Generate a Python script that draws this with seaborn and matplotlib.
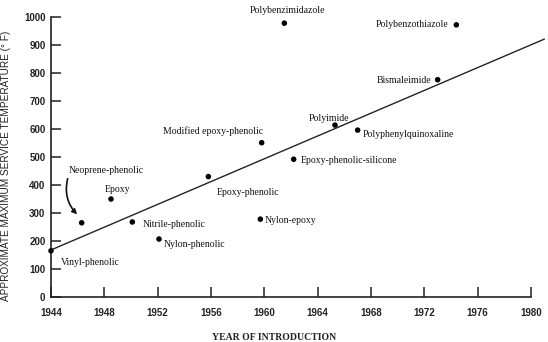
import matplotlib
matplotlib.use("Agg")
import matplotlib.pyplot as plt
import seaborn as sns
import pandas as pd
from matplotlib.patches import FancyArrowPatch

materials = ["Vinyl-phenolic", "Neoprene-phenolic", "Epoxy", "Nitrile-phenolic",
             "Nylon-phenolic", "Epoxy-phenolic", "Nylon-epoxy", "Modified epoxy-phenolic",
             "Epoxy-phenolic-silicone", "Polybenzimidazole", "Polyimide",
             "Polyphenylquinoxaline", "Bismaleimide", "Polybenzothiazole"]
years = [1944.0, 1946.3, 1948.5, 1950.1, 1952.1, 1955.8, 1959.7, 1959.8,
         1962.2, 1961.5, 1965.3, 1967.0, 1973.0, 1974.4]
temps = [165, 265, 350, 268, 207, 430, 278, 551, 492, 978, 614, 596, 776, 972]

trend_years = [1944, 1981]
trend_temps = [168, 921]

x_ticks = [1944, 1948, 1952, 1956, 1960, 1964, 1968, 1972, 1976, 1980]
y_ticks = [0, 100, 200, 300, 400, 500, 600, 700, 800, 900, 1000]

df = pd.DataFrame({"material": materials, "year": years, "temp": temps})
trend = pd.DataFrame({"year": trend_years, "temp": trend_temps})

sns.set_style("ticks")
plt.rcParams["font.family"] = ["Liberation Serif", "DejaVu Serif"]

fig = plt.figure(figsize=(5.48, 3.42), dpi=100)
ax = fig.add_axes([51/548, 1-297/342, 480/548, 280/342])

sns.lineplot(data=trend, x="year", y="temp", ax=ax, color="#222222", lw=1.0,
             clip_on=False)
sns.scatterplot(data=df, x="year", y="temp", ax=ax, color="black", s=16,
                edgecolor="none", clip_on=False, zorder=5)

# label placement (offsets in pixels, alignment)
label_pos = {
    "Vinyl-phenolic": (10, -12, "left"),
    "Neoprene-phenolic": (-13, 52, "left"),
    "Epoxy": (6, 10, "center"),
    "Nitrile-phenolic": (10, -3, "left"),
    "Nylon-phenolic": (5, -5, "left"),
    "Epoxy-phenolic": (8, -16, "left"),
    "Nylon-epoxy": (4, -1, "left"),
    "Modified epoxy-phenolic": (1, 12, "right"),
    "Epoxy-phenolic-silicone": (7, -1, "left"),
    "Polybenzimidazole": (-35, 13, "left"),
    "Polyimide": (-6, 7, "center"),
    "Polyphenylquinoxaline": (5, -4, "left"),
    "Bismaleimide": (-6, -1, "right"),
    "Polybenzothiazole": (-8, 0, "right"),
}
for m, xv, yv in zip(materials, years, temps):
    dx, dy, ha = label_pos[m]
    ax.annotate(m, (xv, yv), xytext=(dx, dy), textcoords="offset pixels",
                ha=ha, va="center", fontsize=7, color="#111111",
                annotation_clip=False)

# curved arrow for Neoprene-phenolic
arrow = FancyArrowPatch((1945.3, 432), (1946.1, 288),
                        connectionstyle="arc3,rad=0.3", arrowstyle="-|>",
                        mutation_scale=7, lw=1.2, color="#111111", clip_on=False)
ax.add_patch(arrow)

ax.set_xlim(1944, 1980)
ax.set_ylim(0, 1000)
ax.set_xticks(x_ticks)
ax.set_yticks(y_ticks)
ax.set_xticklabels([str(t) for t in x_ticks], fontfamily="Liberation Sans",
                   fontweight="bold", fontsize=7, color="#222222")
ax.set_yticklabels([str(t) for t in y_ticks], fontfamily="Liberation Sans",
                   fontweight="bold", fontsize=7, color="#222222")
ax.tick_params(axis="x", direction="in", length=7, width=1.1, pad=8, color="#222222")
ax.tick_params(axis="y", direction="in", length=7, width=1.1, pad=4, color="#222222")
sns.despine(ax=ax)
for sp in ("left", "bottom"):
    ax.spines[sp].set_linewidth(1.2)
    ax.spines[sp].set_color("#222222")

ax.set_xlabel("")
ax.set_ylabel("")
fig.text(274/548, 1-337/342, "YEAR OF INTRODUCTION", ha="center", va="center",
         fontsize=7, fontweight="bold", color="#222222")
fig.text(6/548, 1-166/342, "APPROXIMATE MAXIMUM SERVICE TEMPERATURE (° F)",
         ha="center", va="center", rotation=90, fontsize=7.2,
         fontfamily="Liberation Sans", color="#222222")

fig.savefig("out.png", dpi=100, facecolor="white")
